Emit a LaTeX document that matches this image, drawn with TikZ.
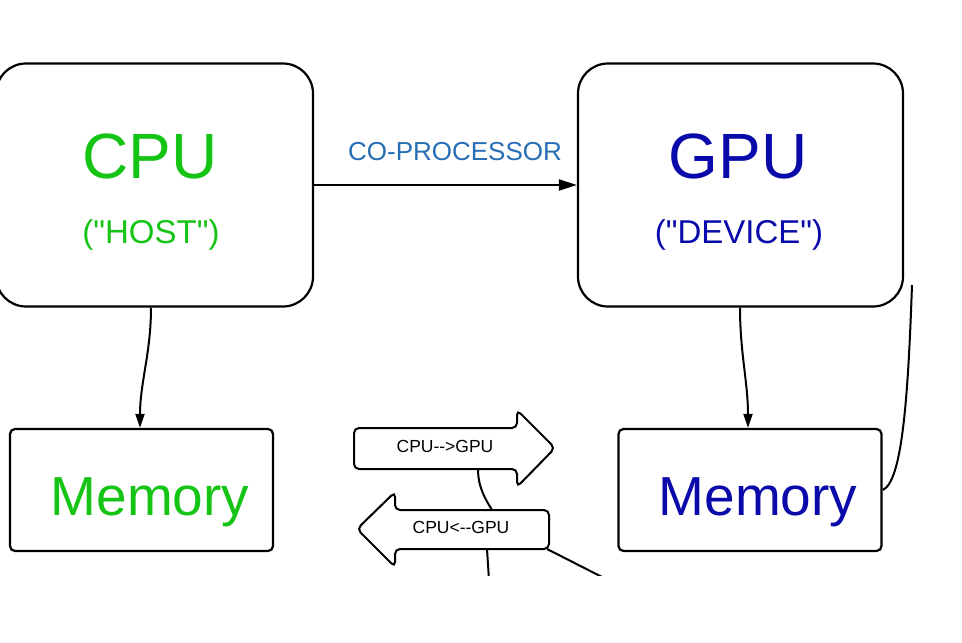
\documentclass[tikz,border=0pt]{standalone}
\usepackage{fontspec}
\setmainfont{Liberation Sans}
\usetikzlibrary{arrows.meta}
\definecolor{hostgreen}{RGB}{22,196,22}
\definecolor{devblue}{RGB}{10,10,170}
\definecolor{coblue}{RGB}{40,110,180}
\newcommand{\dq}{\textquotedbl}
\begin{document}
\begin{tikzpicture}[x=1pt,y=-1pt,line width=2.2pt,
  bigbox/.style={draw, rounded corners=30pt, minimum height=243pt, inner sep=0pt},
  membox/.style={draw, rounded corners=5pt, minimum width=263pt, minimum height=122pt, inner sep=0pt},
  conn/.style={line width=2pt},
  tipdown/.style={-{Triangle[length=14pt,width=9pt]}},
  blockarrow/.style={draw, line width=2pt, rounded corners=5pt},
  lbl/.style={anchor=base, inner sep=0pt}]
\useasboundingbox (0,0) rectangle (962,643);
\begin{scope}
\clip (0,0) rectangle (962,575);
% boxes
\node[bigbox, minimum width=317pt] (cpu) at (154.5,185) {};
\node[bigbox, minimum width=325pt] (gpu) at (740.5,185) {};
\node[membox] (mem1) at (141.5,490) {};
\node[membox] (mem2) at (750,490) {};
% texts
\node[lbl, text=hostgreen, font=\fontsize{64}{64}\selectfont] (cputxt) at (150,178) {CPU};
\node[lbl, text=hostgreen, font=\fontsize{33}{33}\selectfont] (hosttxt) at (151,243) {(\dq HOST\dq)};
\node[lbl, text=devblue, font=\fontsize{64}{64}\selectfont] (gputxt) at (738,178) {GPU};
\node[lbl, text=devblue, font=\fontsize{33}{33}\selectfont] (devtxt) at (739,243) {(\dq DEVICE\dq)};
\node[lbl, text=hostgreen, font=\fontsize{55}{55}\selectfont] (m1txt) at (150,515) {Memory};
\node[lbl, text=devblue, font=\fontsize{55}{55}\selectfont] (m2txt) at (758,515) {Memory};
\node[lbl, text=coblue, font=\fontsize{26}{26}\selectfont] (cotxt) at (455,160) {CO-PROCESSOR};
% connectors
\draw[conn, -{Triangle[length=18pt,width=11pt]}] (cpu.east) -- (gpu.west);
\draw[conn, tipdown] ([xshift=-3.5pt]cpu.south) .. controls +(0,45) and +(0,-45) .. ([xshift=-1.5pt]mem1.north);
\draw[conn, tipdown] ([xshift=-0.5pt]gpu.south) .. controls +(0,45) and +(0,-45) .. ([xshift=-2pt]mem2.north);
\coordinate (rtop) at (912,285);
\draw[conn] (rtop) .. controls (908,400) and (902,482) .. (mem2.east);
% block arrows
\draw[blockarrow, fill=white] (517,428) -- (517,410) -- (555,448) -- (517,487) -- (517,469) -- (354,469) -- (354,428) -- cycle;
\node[lbl, font=\fontsize{17.5}{17.5}\selectfont] (c2g) at (445,452) {CPU-{}->GPU};
\coordinate (a1) at (478,469);
\coordinate (a2) at (492,510);
\draw[conn] (a1) .. controls (478,488) and (486,500) .. (a2);
\draw[blockarrow, fill=white] (395,510) -- (395,492) -- (357,529) -- (395,567) -- (395,549) -- (549,549) -- (549,510) -- cycle;
\node[lbl, font=\fontsize{17.5}{17.5}\selectfont] (g2c) at (461,533) {CPU<-{}-GPU};
\coordinate (b1) at (487,549);
\coordinate (b2) at (489,580);
\draw[conn] (b1) -- (b2);
\coordinate (c1) at (547,549);
\coordinate (c2) at (604,578);
\draw[conn] (c1) -- (c2);
\end{scope}
\end{tikzpicture}
\end{document}
